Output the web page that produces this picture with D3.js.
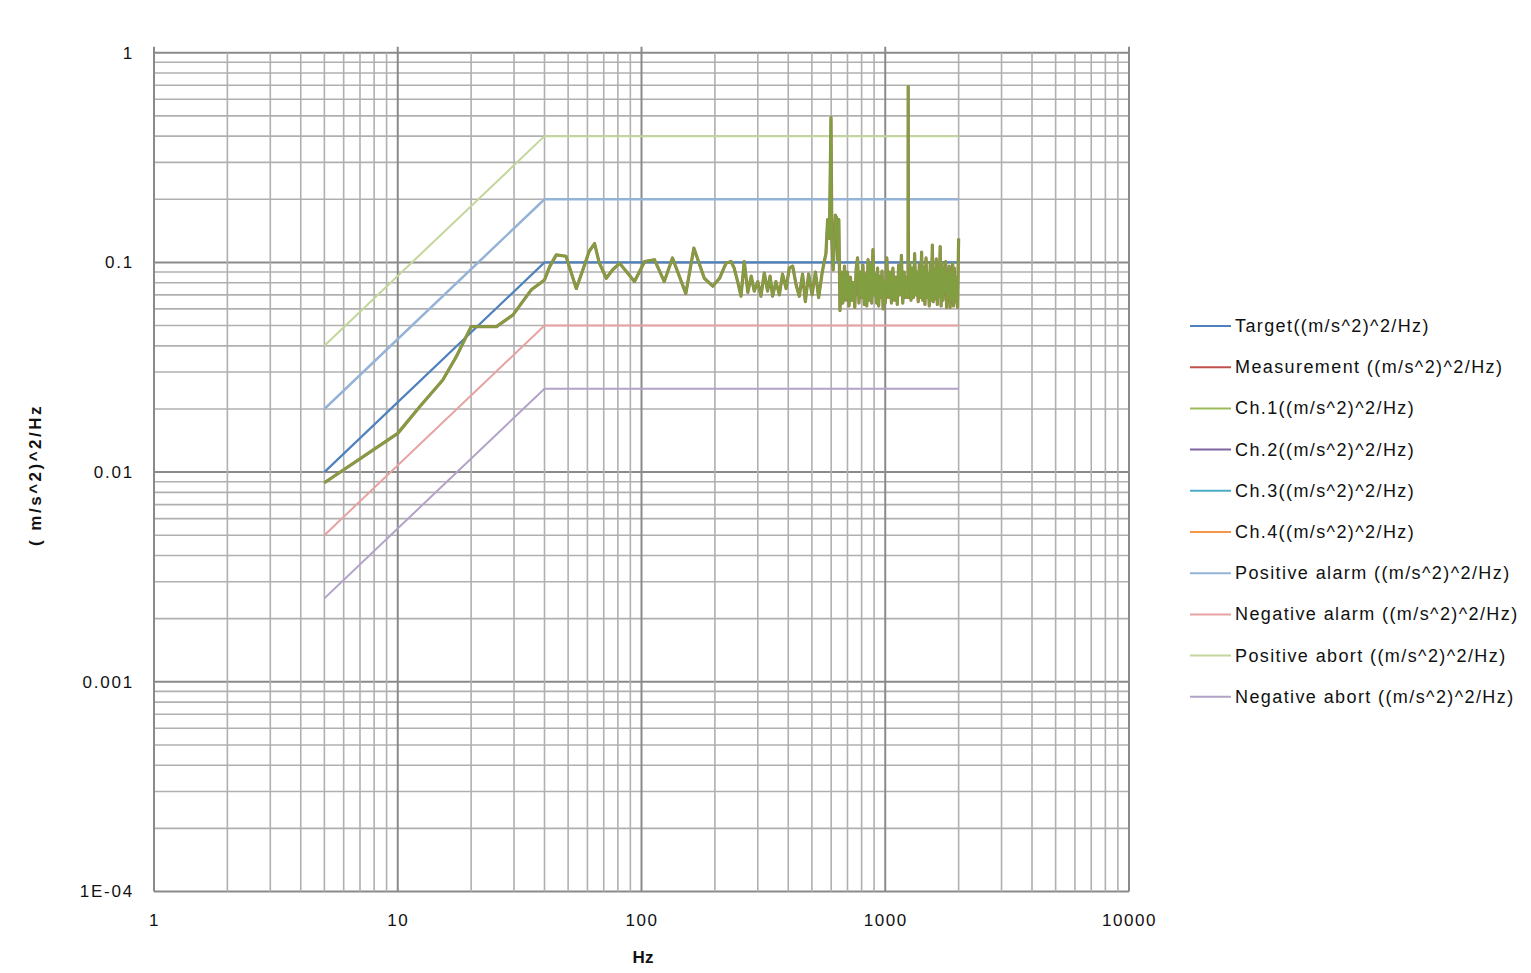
<!DOCTYPE html>
<html>
<head>
<meta charset="utf-8">
<script src="https://cdn.jsdelivr.net/npm/d3@7"></script>
<style>
  html, body { margin: 0; padding: 0; background: #ffffff; }
  svg { display: block; }
  text { font-family: "Liberation Sans", "DejaVu Sans", sans-serif; fill: #111111; }
</style>
</head>
<body>
<svg id="chart" width="1531" height="973"></svg>
<script>
// ---------------- DATA ----------------
const xTickValues = [1, 10, 100, 1000, 10000];
const xTickLabels = ["1", "10", "100", "1000", "10000"];
const yTickValues = [1e-4, 1e-3, 1e-2, 1e-1, 1];
const yTickLabels = ["1E-04", "0.001", "0.01", "0.1", "1"];

const seriesNames = [
  "Target((m/s^2)^2/Hz)",
  "Measurement ((m/s^2)^2/Hz)",
  "Ch.1((m/s^2)^2/Hz)",
  "Ch.2((m/s^2)^2/Hz)",
  "Ch.3((m/s^2)^2/Hz)",
  "Ch.4((m/s^2)^2/Hz)",
  "Positive alarm ((m/s^2)^2/Hz)",
  "Negative alarm ((m/s^2)^2/Hz)",
  "Positive abort ((m/s^2)^2/Hz)",
  "Negative abort ((m/s^2)^2/Hz)"
];
const seriesColors = ["#4f81bd", "#c0504d", "#9bbb59", "#8064a2", "#4bacc6", "#f79646",
                      "#95b3d7", "#e6a3a2", "#c3d69b", "#b3a2c7"];

// profile break points (Hz)
const profileHz = [5, 40, 2000];
const targetPsd = [0.01, 0.1, 0.1];
const posAlarmPsd = [0.02, 0.2, 0.2];
const negAlarmPsd = [0.005, 0.05, 0.05];
const posAbortPsd = [0.04, 0.4, 0.4];
const negAbortPsd = [0.0025, 0.025, 0.025];

const ch1Points = [
  [5, 0.0089], [10, 0.0153], [12.3, 0.0205], [15.3, 0.0275], [17.4, 0.0356], [20, 0.0494],
  [25.4, 0.0494], [29.7, 0.0562], [35.3, 0.074], [40, 0.0824], [42, 0.0955], [44.7, 0.1086],
  [49, 0.107], [54, 0.075], [58, 0.095], [61, 0.113], [64.2, 0.123], [67, 0.100], [71.7, 0.084],
  [76, 0.092], [81.3, 0.099], [87, 0.090], [93.6, 0.081], [103, 0.101], [113, 0.103], [124, 0.081],
  [134, 0.105], [152, 0.071], [164, 0.117], [181, 0.084], [196, 0.077], [209, 0.084], [222, 0.099],
  [233, 0.101], [240, 0.094], [248, 0.081], [256, 0.069], [264, 0.101], [273, 0.072], [282, 0.086],
  [290, 0.073], [300, 0.081], [309, 0.069], [319, 0.089], [329, 0.073], [337, 0.086], [345, 0.069],
  [356, 0.081], [368, 0.070], [379, 0.088], [392, 0.075], [404, 0.094], [417, 0.096], [431, 0.078],
  [444, 0.069], [458, 0.088], [470, 0.065], [485, 0.088], [501, 0.070], [517, 0.090], [533, 0.068],
  [550, 0.088], [562, 0.101], [571, 0.110], [580, 0.160], [590, 0.130], [599, 0.49], [604, 0.128],
  [612, 0.092], [624, 0.168], [632, 0.163], [638, 0.103], [645, 0.160], [652, 0.059], [660, 0.090],
  [670, 0.064], [680, 0.096], [690, 0.066], [700, 0.090], [710, 0.062], [720, 0.085], [730, 0.066],
  [740, 0.080], [750, 0.061], [760, 0.094], [770, 0.105], [780, 0.064], [790, 0.090], [800, 0.068],
  [810, 0.097], [820, 0.063], [830, 0.088], [840, 0.062], [850, 0.103], [860, 0.066], [870, 0.098],
  [880, 0.064], [890, 0.115], [900, 0.070], [910, 0.088], [920, 0.064], [930, 0.094], [940, 0.062],
  [950, 0.086], [960, 0.068], [970, 0.091], [980, 0.060], [990, 0.080], [1000, 0.064], [1015, 0.105],
  [1030, 0.068], [1045, 0.090], [1060, 0.064], [1075, 0.094], [1090, 0.066], [1105, 0.085],
  [1120, 0.063], [1135, 0.097], [1150, 0.070], [1165, 0.108], [1180, 0.064], [1195, 0.090],
  [1210, 0.068], [1225, 0.085], [1240, 0.068], [1242, 0.69], [1245, 0.075], [1260, 0.100],
  [1275, 0.066], [1290, 0.094], [1305, 0.068], [1320, 0.110], [1335, 0.070], [1350, 0.090],
  [1365, 0.065], [1380, 0.098], [1395, 0.068], [1410, 0.112], [1425, 0.066], [1440, 0.095],
  [1455, 0.063], [1470, 0.105], [1485, 0.068], [1500, 0.088], [1515, 0.062], [1530, 0.100],
  [1545, 0.066], [1560, 0.121], [1575, 0.065], [1590, 0.092], [1605, 0.067], [1620, 0.104],
  [1635, 0.063], [1650, 0.095], [1665, 0.069], [1680, 0.119], [1695, 0.062], [1710, 0.100],
  [1725, 0.066], [1740, 0.093], [1755, 0.072], [1770, 0.101], [1785, 0.061], [1800, 0.088],
  [1815, 0.068], [1830, 0.096], [1845, 0.061], [1860, 0.090], [1875, 0.068], [1890, 0.099],
  [1905, 0.062], [1920, 0.094], [1935, 0.065], [1950, 0.085], [1965, 0.066], [1980, 0.061],
  [1990, 0.090], [2000, 0.130]
];

// ---------------- CHART ----------------
const svg = d3.select("#chart");
const x = d3.scaleLog().domain([1, 10000]).range([154, 1129]);
const y = d3.scaleLog().domain([1e-4, 1]).range([891.5, 52.7]);

const grid = svg.append("g");
// horizontal grid
y.ticks().forEach(v => {
  const major = Math.abs(Math.log10(v) - Math.round(Math.log10(v))) < 1e-9;
  grid.append("line")
    .attr("x1", x(1)).attr("x2", x(10000))
    .attr("y1", y(v)).attr("y2", y(v))
    .attr("stroke", major ? "#8a8a8a" : "#b0b0b0")
    .attr("stroke-width", major ? 2 : 1.6);
});
// vertical grid
x.ticks().forEach(v => {
  const major = Math.abs(Math.log10(v) - Math.round(Math.log10(v))) < 1e-9;
  grid.append("line")
    .attr("x1", x(v)).attr("x2", x(v))
    .attr("y1", major ? y(1) - 6 : y(1)).attr("y2", y(1e-4))
    .attr("stroke", major ? "#8a8a8a" : "#b0b0b0")
    .attr("stroke-width", major ? 2 : 1.6);
});

// axes (labels only)
const xAxis = d3.axisBottom(x).tickValues(xTickValues)
  .tickFormat((d, i) => xTickLabels[i]).tickSize(0).tickPadding(22);
const gx = svg.append("g").attr("transform", `translate(0,${y(1e-4)})`).call(xAxis);
gx.select(".domain").remove();
gx.selectAll("text").style("font-size", "17px").style("letter-spacing", "1.5px")
  .style("font-family", "Liberation Sans, sans-serif").attr("fill", "#111");

const yAxis = d3.axisLeft(y).tickValues(yTickValues)
  .tickFormat((d, i) => yTickLabels[i]).tickSize(0).tickPadding(20);
const gy = svg.append("g").attr("transform", `translate(${x(1)},0)`).call(yAxis);
gy.select(".domain").remove();
gy.selectAll("text").style("font-size", "17px").style("letter-spacing", "1.8px")
  .style("font-family", "Liberation Sans, sans-serif").attr("fill", "#111");

// axis titles
svg.append("text").attr("x", 643).attr("y", 963).attr("text-anchor", "middle")
  .style("font-size", "17px").style("font-weight", "bold").text("Hz");
svg.append("text").attr("transform", "translate(41,475) rotate(-90)").attr("text-anchor", "middle")
  .style("font-size", "17px").style("font-weight", "bold").style("letter-spacing", "2.5px")
  .text("( m/s^2)^2/Hz");

// lines
const line = d3.line().x(d => x(d[0])).y(d => y(d[1]));
const profile = arr => profileHz.map((f, i) => [f, arr[i]]);

const plot = svg.append("g");
plot.append("path").datum(profile(posAbortPsd)).attr("d", line)
  .attr("fill", "none").attr("stroke", seriesColors[8]).attr("stroke-width", 2);
plot.append("path").datum(profile(posAlarmPsd)).attr("d", line)
  .attr("fill", "none").attr("stroke", seriesColors[6]).attr("stroke-width", 2.5);
plot.append("path").datum(profile(negAlarmPsd)).attr("d", line)
  .attr("fill", "none").attr("stroke", seriesColors[7]).attr("stroke-width", 2);
plot.append("path").datum(profile(negAbortPsd)).attr("d", line)
  .attr("fill", "none").attr("stroke", seriesColors[9]).attr("stroke-width", 2);
plot.append("path").datum(profile(targetPsd)).attr("d", line)
  .attr("fill", "none").attr("stroke", seriesColors[0]).attr("stroke-width", 2.2);
// measurement under channel 1
plot.append("path").datum(ch1Points).attr("d", line)
  .attr("fill", "none").attr("stroke", "#a07a50").attr("stroke-width", 3.2)
  .attr("stroke-linejoin", "round");
plot.append("path").datum(ch1Points).attr("d", line)
  .attr("fill", "none").attr("stroke", "#80a040").attr("stroke-opacity", 0.95)
  .attr("stroke-width", 2.4).attr("stroke-linejoin", "round");

// legend
const legend = svg.append("g");
seriesNames.forEach((name, i) => {
  const yy = 326 + i * 41.2;
  legend.append("line").attr("x1", 1190).attr("x2", 1231).attr("y1", yy).attr("y2", yy)
    .attr("stroke", seriesColors[i]).attr("stroke-width", 2);
  legend.append("text").attr("x", 1235).attr("y", yy + 6)
    .style("font-size", "18px").style("letter-spacing", "1.4px").text(name);
});
</script>
</body>
</html>
